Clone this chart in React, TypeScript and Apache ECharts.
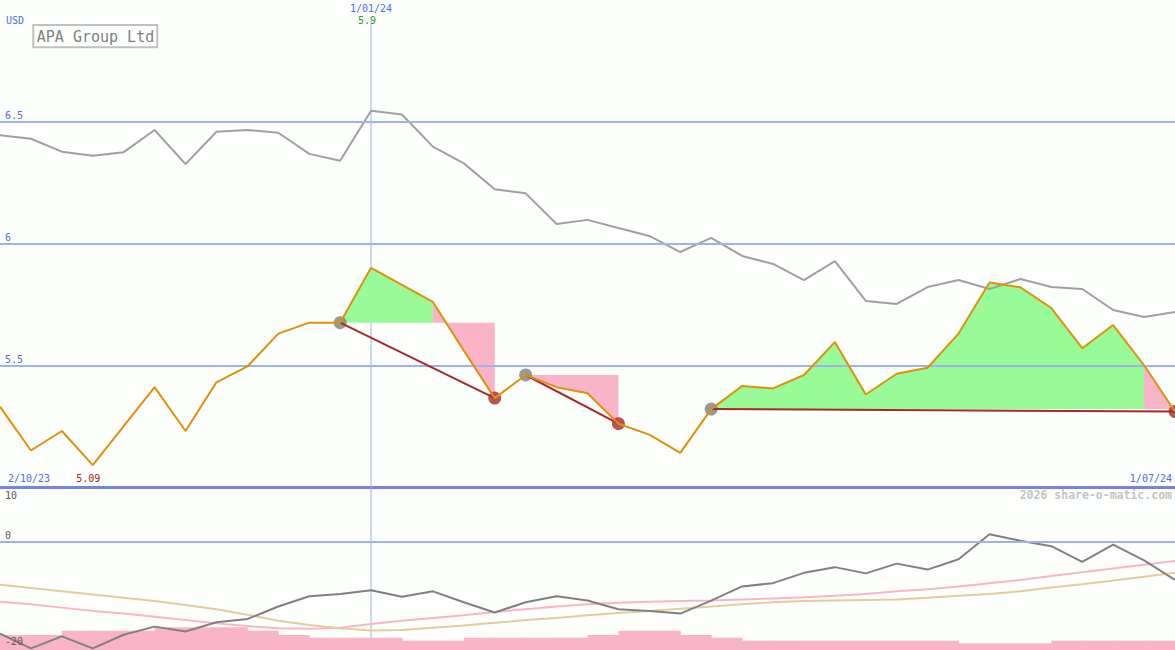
import React, { useEffect, useRef } from 'react';
import * as echarts from 'echarts';

// ---- data (weekly points, index 0 = 2/10/23 ... index 38 = 1/07/24) ----
const price = [
  5.33, 5.15, 5.23, 5.09, 5.25, 5.41, 5.23, 5.43, 5.495, 5.63,
  5.675, 5.675, 5.9, 5.83, 5.76, 5.56, 5.365, 5.46, 5.41, 5.385,
  5.26, 5.215, 5.14, 5.32, 5.415, 5.405, 5.46, 5.595, 5.38, 5.465,
  5.49, 5.63, 5.84, 5.82, 5.735, 5.57, 5.665, 5.5, 5.31,
];
const compare = [
  6.445, 6.43, 6.377, 6.36, 6.375, 6.466, 6.326, 6.459, 6.466, 6.455,
  6.368, 6.34, 6.545, 6.53, 6.398, 6.329, 6.223, 6.206, 6.08, 6.097,
  6.064, 6.031, 5.965, 6.023, 5.949, 5.916, 5.85, 5.928, 5.764, 5.752,
  5.821, 5.85, 5.813, 5.854, 5.821, 5.813, 5.727, 5.698, 5.719,
];
const oscillator = [
  -17.0, -19.7, -17.5, -19.7, -17.2, -15.7, -16.6, -14.9, -14.3, -12.0,
  -10.1, -9.7, -9.0, -10.2, -9.2, -11.2, -13.1, -11.2, -10.1, -10.9,
  -12.5, -12.8, -13.3, -10.9, -8.3, -7.7, -5.8, -4.75, -5.9, -4.1,
  -5.2, -3.3, 1.3, 0.1, -0.9, -3.8, -0.6, -3.5, -7.1,
];
const oscAvgPink = [
  -11.1, -11.6, -12.2, -12.8, -13.3, -13.9, -14.5, -15.1, -15.6, -16.0,
  -16.1, -15.9, -15.2, -14.6, -14.1, -13.6, -13.0, -12.5, -12.0, -11.6,
  -11.3, -11.1, -11.0, -10.9, -10.7, -10.5, -10.3, -10.0, -9.7, -9.2,
  -8.8, -8.3, -7.7, -7.1, -6.4, -5.7, -5.0, -4.3, -3.6,
];
const oscAvgTan = [
  -8.0, -8.6, -9.2, -9.8, -10.4, -11.0, -11.7, -12.5, -13.5, -14.6,
  -15.4, -16.0, -16.4, -16.3, -15.9, -15.5, -15.0, -14.5, -14.1, -13.6,
  -13.2, -12.8, -12.4, -12.0, -11.6, -11.2, -11.0, -10.9, -10.8, -10.7,
  -10.4, -10.0, -9.7, -9.2, -8.5, -7.9, -7.2, -6.5, -5.8,
];
// one bar per week interval [i, i+1]
const volume = [
  1.5, 1.5, 1.93, 1.93, 1.93, 2.27, 2.27, 2.27, 1.93, 1.5,
  1.23, 1.23, 1.23, 0.93, 0.93, 1.23, 1.23, 1.23, 1.23, 1.5,
  1.93, 1.93, 1.5, 1.23, 0.93, 0.93, 0.93, 0.93, 0.93, 0.93,
  0.93, 0.67, 0.67, 0.67, 0.93, 0.93, 0.93, 0.93,
];
const swingStarts = [11, 17, 23];
const swingSplits = [14, 17, 37];
const swingEnds = [16, 20, 38];

const priceTicks = [6.5, 6, 5.5];
const lowerTicks = [10, 0, -20];
const startDate = '2/10/23';
const endDate = '1/07/24';
const markerDate = '1/01/24';
const markerIndex = 12;
const highIndex = 12;
const lowIndex = 3;
const title = 'APA Group Ltd';
const currency = 'USD';
const credit = '2026 share-o-matic.com';

const GRID = '#a0b0f0';
const AXIS = '#7383e6';
const LABEL_BLUE = '#5468f0';
const FONT = '"DejaVu Sans Mono", monospace';
const GREEN = '#98fb98';
const PINK = '#f9b4c8';
const BROWN = '#a52a2a';

export default function App() {
  const ref = useRef<HTMLDivElement>(null);

  useEffect(() => {
    document.body.style.margin = '0';
    const chart = echarts.init(ref.current as HTMLDivElement, null, { renderer: 'svg' });
    const N = price.length;
    const pts = (arr: number[]) => arr.map((v, i) => [i, v]);
    const noSym = { symbol: 'none', showSymbol: false, silent: true };

    const trendSeries = swingStarts.map((s, k) => ({
      type: 'line',
      ...noSym,
      xAxisIndex: 0,
      yAxisIndex: 0,
      z: 6,
      data: [
        [s, price[s]],
        [swingEnds[k], price[swingEnds[k]]],
      ],
      lineStyle: { color: BROWN, width: 2 },
    }));

    const option: any = {
      animation: false,
      backgroundColor: '#fcfffc',
      grid: [
        { left: 0, right: 0, top: 0, height: 487 },
        { left: 0, right: 0, top: 487, bottom: 0 },
      ],
      xAxis: [
        {
          type: 'value', gridIndex: 0, min: 0, max: N - 1,
          axisLine: { show: true, onZero: false, lineStyle: { color: AXIS, width: 3 } },
          axisTick: { show: false }, axisLabel: { show: false }, splitLine: { show: false },
        },
        { type: 'value', gridIndex: 1, min: 0, max: N - 1, show: false },
      ],
      yAxis: [
        { type: 'value', gridIndex: 0, min: 5, max: 7, show: false },
        { type: 'value', gridIndex: 1, min: -20, max: 10, show: false },
        { type: 'value', gridIndex: 1, min: 0, max: 16.3, show: false },
      ],
      series: [
        {
          type: 'line', ...noSym, xAxisIndex: 0, yAxisIndex: 0, z: 1,
          data: [[markerIndex, 6.915], [markerIndex, 5]],
          lineStyle: { color: GRID, width: 1 },
          markLine: {
            silent: true, symbol: 'none', label: { show: false },
            lineStyle: { color: GRID, width: 2, type: 'solid' },
            data: priceTicks.map((v) => ({ yAxis: v })),
          },
        },
        {
          type: 'custom', xAxisIndex: 0, yAxisIndex: 0, z: 2, silent: true,
          data: swingStarts.map((s, k) => [s, price[s], k]),
          renderItem: (params: any, api: any) => {
            const k = api.value(2);
            const s = swingStarts[k];
            const m = swingSplits[k];
            const e = swingEnds[k];
            const base = price[s];
            const poly = (a: number, b: number) => {
              const p = [api.coord([a, base])];
              for (let i = a; i <= b; i++) p.push(api.coord([i, price[i]]));
              p.push(api.coord([b, base]));
              return p;
            };
            const children: any[] = [];
            if (m > s) children.push({ type: 'polygon', shape: { points: poly(s, m) }, style: { fill: GREEN } });
            if (e > m) children.push({ type: 'polygon', shape: { points: poly(m, e) }, style: { fill: PINK } });
            return { type: 'group', children };
          },
        },
        {
          type: 'line', ...noSym, xAxisIndex: 0, yAxisIndex: 0, z: 3,
          data: pts(compare), lineStyle: { color: '#a0a0a0', width: 2 },
        },
        {
          type: 'scatter', xAxisIndex: 0, yAxisIndex: 0, z: 4, silent: true, symbolSize: 13,
          data: swingStarts.map((s) => [s, price[s]]), itemStyle: { color: '#808080' },
        },
        {
          type: 'scatter', xAxisIndex: 0, yAxisIndex: 0, z: 4, silent: true, symbolSize: 13,
          data: swingEnds.map((s) => [s, price[s]]), itemStyle: { color: BROWN },
        },
        ...trendSeries,
        {
          type: 'line', ...noSym, xAxisIndex: 0, yAxisIndex: 0, z: 7,
          data: pts(price), lineStyle: { color: '#e0900a', width: 2 },
        },
        // lower panel
        {
          type: 'line', ...noSym, xAxisIndex: 1, yAxisIndex: 1, z: 1,
          data: [[markerIndex, 10], [markerIndex, -20]],
          lineStyle: { color: GRID, width: 1 },
          markLine: {
            silent: true, symbol: 'none', label: { show: false },
            lineStyle: { color: GRID, width: 2, type: 'solid' },
            data: [{ yAxis: 0 }],
          },
        },
        {
          type: 'custom', xAxisIndex: 1, yAxisIndex: 2, z: 2, silent: true,
          data: volume.map((v, i) => [i, v]),
          renderItem: (params: any, api: any) => {
            const i = api.value(0);
            const v = api.value(1);
            const a = api.coord([i, v]);
            const b = api.coord([i + 1, 0]);
            return {
              type: 'rect',
              shape: { x: a[0], y: a[1], width: b[0] - a[0] + 0.5, height: b[1] - a[1] },
              style: { fill: PINK },
            };
          },
        },
        {
          type: 'line', ...noSym, xAxisIndex: 1, yAxisIndex: 1, z: 3,
          data: pts(oscAvgPink), lineStyle: { color: PINK, width: 2 },
        },
        {
          type: 'line', ...noSym, xAxisIndex: 1, yAxisIndex: 1, z: 3,
          data: pts(oscAvgTan), lineStyle: { color: '#e3cd9b', width: 2 },
        },
        {
          type: 'line', ...noSym, xAxisIndex: 1, yAxisIndex: 1, z: 4,
          data: pts(oscillator), lineStyle: { color: '#808080', width: 2 },
        },
      ],
    };
    chart.setOption(option);

    const px = (g: number, x: number, y: number) =>
      chart.convertToPixel({ gridIndex: g } as any, [x, y]) as number[];
    const txt = (text: string, x: number, y: number, fill: string, align = 'left', va = 'top', font = `10px ${FONT}`) => ({
      type: 'text', x, y, silent: true, z: 100,
      style: { text, fill, font, align, verticalAlign: va },
    });

    const mx = px(0, markerIndex, 5)[0];
    const hx = px(0, highIndex, 5)[0];
    const lx = px(0, lowIndex, 5)[0];
    const elements: any[] = [
      txt(currency, 6, 15, LABEL_BLUE),
      {
        type: 'rect', silent: true, z: 100,
        shape: { x: 33.3, y: 25, width: 124, height: 22.3 },
        style: { fill: '#fcfffc', stroke: '#c0c0c0', lineWidth: 2 },
      },
      txt(title, 95.5, 37, '#808080', 'center', 'middle', `15px ${FONT}`),
      txt(markerDate, mx, 3, LABEL_BLUE, 'center'),
      txt(String(price[highIndex]), hx - 4, 15, '#2a9a2a', 'center'),
      txt(startDate, 8, 473, LABEL_BLUE),
      txt(String(price[lowIndex]), lx - 4.5, 473, '#a02020', 'center'),
      txt(endDate, 1172, 473, LABEL_BLUE, 'right'),
      txt(credit, 1172, 489, '#c4c4c4', 'right', 'top', `bold 11.5px ${FONT}`),
    ];
    priceTicks.forEach((v) => {
      const y = px(0, 0, v)[1];
      elements.push(txt(String(v), 5, y - 1, LABEL_BLUE, 'left', 'bottom'));
    });
    lowerTicks.forEach((v, k) => {
      const y = px(1, 0, v)[1];
      const top = k === 0 ? y + 3 : k === 1 ? y - 11 : y - 14;
      elements.push(txt(String(v), 5, top, '#5a5a5a'));
    });
    chart.setOption({ graphic: { elements } });

    return () => chart.dispose();
  }, []);

  return (
    <div
      ref={ref}
      style={{ position: 'fixed', left: 0, top: 0, width: 1175, height: 650 }}
    />
  );
}
